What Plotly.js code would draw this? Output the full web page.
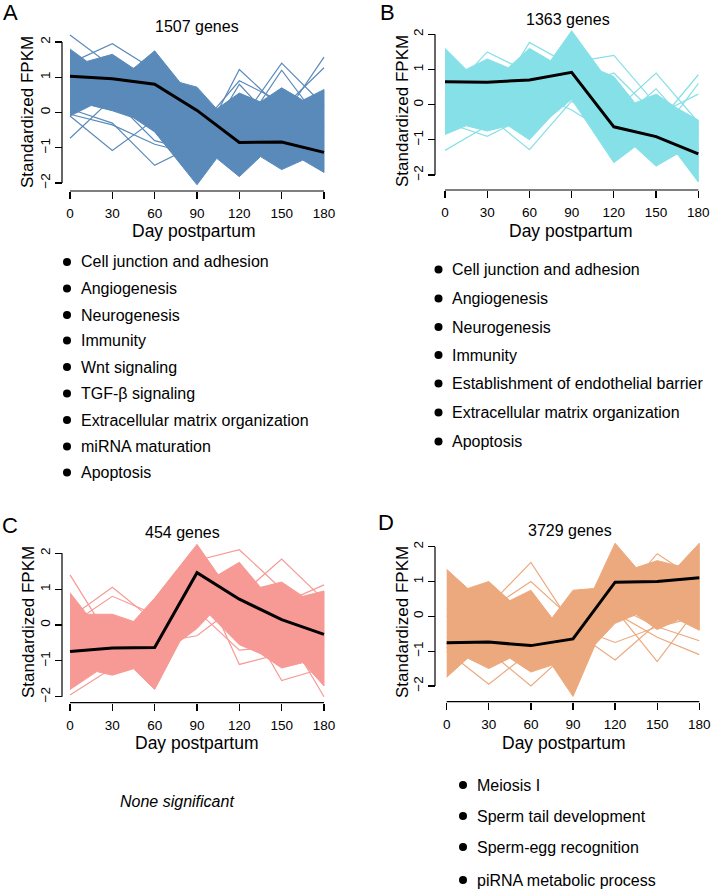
<!DOCTYPE html>
<html>
<head>
<meta charset="utf-8">
<script src="https://cdn.plot.ly/plotly-3.0.1.min.js"></script>
<style>html,body{margin:0;padding:0;background:#fff;}#chart{width:711px;height:890px;}</style>
</head>
<body>
<div id="chart"></div>
<script>
// ---------------- DATA ----------------
const days = [0, 30, 60, 90, 120, 150, 180];
const tickDays = [0, 30, 60, 90, 120, 150, 180];
const tickY = [-2, -1, 0, 1, 2];

const panelLetters = ["A", "B", "C", "D"];
const panelTitles = ["1507 genes", "1363 genes", "454 genes", "3729 genes"];

// mean (black) profiles
const meanA = [1.03, 0.96, 0.80, 0.06, -0.85, -0.84, -1.13];
const meanB = [0.65, 0.64, 0.70, 0.92, -0.63, -0.91, -1.40];
const meanC = [-0.74, -0.64, -0.63, 1.46, 0.72, 0.15, -0.26];
const meanD = [-0.76, -0.74, -0.84, -0.65, 0.98, 1.00, 1.11];

// outline of the dense bundle of gene profiles (upper and lower edge)
const bandA_upX = [0, 12, 30, 45, 60, 78, 90, 104, 120, 135, 150, 165, 180];
const bandA_upY = [1.8, 1.45, 1.65, 1.25, 1.75, 0.85, 0.72, 0.1, 0.55, 0.3, 0.7, 0.35, 0.65];
const bandA_loX = [0, 15, 30, 45, 60, 75, 90, 104, 120, 135, 150, 165, 180];
const bandA_loY = [-0.1, 0.2, 0.05, -0.15, -0.55, -1.3, -2.05, -1.3, -1.82, -1.25, -1.62, -1.35, -1.7];

const bandB_upX = [0, 15, 30, 45, 60, 75, 90, 111, 120, 135, 150, 165, 180];
const bandB_upY = [1.6, 1.0, 1.3, 1.05, 1.6, 1.25, 2.1, 0.95, 0.8, 0.05, 0.3, -0.1, -0.44];
const bandB_loX = [0, 15, 30, 45, 60, 75, 90, 120, 135, 150, 165, 180];
const bandB_loY = [-0.85, -0.6, -0.75, -0.6, -1.0, -0.35, 0.15, -1.65, -1.2, -1.75, -1.4, -2.2];

const bandC_upX = [0, 12, 30, 45, 60, 90, 105, 120, 135, 150, 165, 180];
const bandC_upY = [0.9, 0.3, 0.3, 0.1, 0.75, 2.25, 1.4, 1.75, 1.05, 1.2, 0.8, 0.95];
const bandC_loX = [0, 19, 30, 45, 60, 78, 90, 99, 120, 135, 150, 165, 180];
const bandC_loY = [-1.8, -1.3, -1.4, -1.22, -1.8, -0.45, -0.1, 0.28, -0.55, -0.8, -1.2, -1.05, -1.7];

const bandD_upX = [0, 15, 30, 45, 60, 75, 90, 105, 120, 135, 150, 165, 180];
const bandD_upY = [1.35, 0.8, 1.0, 0.45, 0.75, -0.05, 0.75, 0.8, 2.1, 1.4, 1.6, 1.45, 2.1];
const bandD_loX = [0, 15, 30, 45, 60, 75, 90, 106, 120, 135, 150, 165, 180];
const bandD_loY = [-1.75, -1.2, -1.5, -1.2, -1.6, -1.4, -2.3, -0.8, -0.2, 0.05, -0.38, -0.1, -0.4];

// individual outlying gene profiles visible outside the dense bundle
const outA = [
  [2.2, 1.3, 1.2, 0.5, -0.6, -0.9, -1.0],
  [1.4, 1.95, 1.2, 0.4, -0.5, -0.8, -1.2],
  [-0.73, 0.4, 0.3, -0.2, -0.4, -0.5, -0.9],
  [-0.1, -1.08, -0.2, -0.5, -0.7, -0.9, -1.2],
  [0.1, -0.3, -1.5, -0.9, -1.0, -1.2, -1.3],
  [0.5, 0.4, -0.8, -1.1, 1.22, 0.1, -0.3],
  [0.9, 0.6, 0.2, -0.9, -0.3, 1.4, 0.2],
  [0.8, 0.7, 0.5, -0.6, -0.5, -0.2, 1.57],
  [1.0, 0.8, 0.3, -0.5, 0.9, 0.3, -0.6],
  [0.6, 0.5, 0.4, -0.3, -0.6, 1.2, -0.4],
  [0.7, 0.3, 0.1, -0.4, -0.8, 0.1, 1.27],
  [-0.05, -0.35, -0.9, -1.2, 0.8, -0.5, -0.7]
];
const outB = [
  [-1.3, -0.6, -0.5, 0.3, -0.6, -1.0, -1.5],
  [0.2, 1.5, 0.9, 1.0, -0.3, -1.2, -1.6],
  [-0.5, -0.9, -0.3, 0.5, -0.8, -1.1, -1.4],
  [0.3, -0.2, 1.77, 1.1, -0.4, -0.9, -1.3],
  [0.0, -0.3, -1.28, 0.1, -0.7, -1.2, -1.5],
  [0.5, 0.6, 0.4, -0.15, -0.9, -1.0, -1.6],
  [0.8, 0.7, 0.6, 1.2, 1.4, 0.0, -0.8],
  [0.6, 0.6, 0.5, 0.9, -0.2, 0.9, -0.5],
  [0.4, 0.5, 0.6, 1.0, -0.6, 0.45, -0.9],
  [0.5, 0.4, 0.4, 0.8, -0.5, -0.6, 0.85],
  [0.3, 0.3, 0.2, 0.6, -0.8, -1.0, 0.6],
  [0.7, 0.5, 0.3, 0.5, 0.9, -0.3, -1.2],
  [0.2, 0.1, 0.0, 0.4, -1.2, -0.3, 0.3]
];
const outC = [
  [1.4, -0.5, -0.6, 1.0, 0.8, 0.3, -0.5],
  [0.2, 1.05, 0.1, 1.5, 0.8, 0.0, -0.6],
  [0.0, 0.8, 0.3, 1.9, 0.9, 0.2, -0.4],
  [-1.95, -1.2, -0.9, 1.2, 0.5, 0.0, -0.5],
  [-0.6, -0.5, -0.5, -0.3, 0.6, 0.4, 0.2],
  [-0.8, -0.7, -0.6, 1.8, 2.1, 1.0, 0.5],
  [-0.5, -0.6, -0.4, 1.2, 0.8, 1.84, 0.7],
  [-0.7, -0.8, -0.7, 1.5, -1.1, -0.8, -1.0],
  [-0.9, -1.0, -0.9, 1.0, 0.5, -1.55, -1.2],
  [-1.0, -0.9, -0.8, 0.9, 0.3, 0.0, -2.0],
  [-0.6, -0.5, -0.6, 1.4, 1.0, 0.6, 1.12],
  [-0.2, -0.4, -0.3, 0.4, -0.7, -0.6, -0.9]
];
const outD = [
  [0.2, 0.3, 1.55, -0.3, 0.6, 0.8, 0.7],
  [0.0, 0.2, 1.0, -0.1, 0.5, 0.6, 0.9],
  [-1.0, -1.95, -1.0, -0.8, 0.5, 0.5, 0.6],
  [-0.9, -1.0, -2.0, -0.9, 0.8, 0.7, 0.8],
  [-0.6, -0.5, -0.6, -0.4, -1.25, -0.2, 0.2],
  [-0.8, -0.7, -0.5, -0.3, -0.75, -0.3, 0.0],
  [-0.9, -0.8, -0.9, -0.5, 0.2, -1.3, 0.3],
  [-0.7, -0.8, -0.6, -0.4, 0.1, -0.6, -1.1],
  [-0.8, -0.9, -0.9, -0.6, 0.4, 1.8, 1.0],
  [-0.8, -0.7, -0.8, -0.7, 0.3, -0.3, -0.7]
];

// enriched terms listed under the panels
const termsA = ["Cell junction and adhesion", "Angiogenesis", "Neurogenesis", "Immunity", "Wnt signaling",
  "TGF-β signaling", "Extracellular matrix organization", "miRNA maturation", "Apoptosis"];
const termsB = ["Cell junction and adhesion", "Angiogenesis", "Neurogenesis", "Immunity",
  "Establishment of endothelial barrier", "Extracellular matrix organization", "Apoptosis"];
const termsC = ["None significant"];
const termsD = ["Meiosis I", "Sperm tail development", "Sperm-egg recognition", "piRNA metabolic process"];

const colors = ["#5a8aba", "#86e0e8", "#f79a95", "#eda97e"];

// ---------------- LAYOUT (pixel geometry) ----------------
const W = 711, H = 890;
const FONT = "Liberation Sans, Arial, Helvetica, sans-serif";
const px = v => v / W;
const py = v => 1 - v / H;

const geom = [
  {x0: 70, x180: 324, y2: 42, ym2: 183, xLine: 191, yLine: 62,
   letter: [10, 12], title: [197, 26], ytitle: [28, 112], xtitle: [194, 231],
   bulletX: 67, textX: 79, itemsY: [262, 288.5, 315, 340.5, 367, 393.5, 420, 446.5, 472.5]},
  {x0: 445, x180: 698.3, y2: 34.3, ym2: 175, xLine: 190, yLine: 435,
   letter: [388, 12], title: [568, 19], ytitle: [402, 111], xtitle: [571, 231],
   bulletX: 438.5, textX: 450, itemsY: [269.5, 298.5, 327, 355, 383.5, 412.5, 441.5]},
  {x0: 70, x180: 324, y2: 553.3, ym2: 696.7, xLine: 702.7, yLine: 62,
   letter: [10, 525], title: [182, 532], ytitle: [28, 622], xtitle: [197, 743],
   italicText: [177, 801]},
  {x0: 446.7, x180: 699.3, y2: 546.7, ym2: 686, xLine: 701.7, yLine: 435,
   letter: [386, 522], title: [570, 530], ytitle: [402, 622], xtitle: [564, 743],
   bulletX: 463, textX: 475, itemsY: [785, 816, 847, 880]}
];

const means = [meanA, meanB, meanC, meanD];
const bands = [
  [bandA_upX, bandA_upY, bandA_loX, bandA_loY],
  [bandB_upX, bandB_upY, bandB_loX, bandB_loY],
  [bandC_upX, bandC_upY, bandC_loX, bandC_loY],
  [bandD_upX, bandD_upY, bandD_loX, bandD_loY]
];
const outs = [outA, outB, outC, outD];
const terms = [termsA, termsB, termsC, termsD];

const XR = [-6, 186], YR = [-2.5, 2.5];
const traces = [];
const layout = {
  width: W, height: H, margin: {l: 0, r: 0, t: 0, b: 0},
  paper_bgcolor: "#ffffff", plot_bgcolor: "rgba(0,0,0,0)",
  showlegend: false, font: {family: FONT, color: "#000"},
  annotations: [], shapes: []
};

geom.forEach((g, i) => {
  const n = i === 0 ? "" : String(i + 1);
  const xa = "x" + n, ya = "y" + n;
  const xs = (g.x180 - g.x0) / 180;
  const ys = (g.ym2 - g.y2) / 4;
  const pxTop = g.y2 - (YR[1] - 2) * ys;
  const pxBot = g.ym2 + (-2 - YR[0]) * ys;
  layout["xaxis" + n] = {
    domain: [px(g.x0 + XR[0] * xs), px(g.x0 + XR[1] * xs)], range: XR,
    anchor: "free", position: py(g.xLine),
    showgrid: false, zeroline: false, showline: false,
    tickmode: "array", tickvals: tickDays, ticks: "outside", ticklen: 7, tickwidth: 1.2, tickcolor: "#000",
    tickfont: {size: 13.5, family: FONT, color: "#000"}, ticklabelstandoff: 3, fixedrange: true
  };
  layout["yaxis" + n] = {
    domain: [py(pxBot), py(pxTop)], range: YR,
    anchor: "free", position: px(g.yLine),
    showgrid: false, zeroline: false, showline: false,
    tickmode: "array", tickvals: tickY, ticks: "outside", ticklen: 7, tickwidth: 1.2, tickcolor: "#000",
    tickangle: -90, tickfont: {size: 13.5, family: FONT, color: "#000"}, fixedrange: true
  };
  // R-style axis lines spanning only the tick range
  layout.shapes.push({type: "line", xref: xa, yref: "paper", x0: tickDays[0], x1: tickDays[tickDays.length - 1],
    y0: py(g.xLine), y1: py(g.xLine), line: {color: "#000", width: 1.2}});
  layout.shapes.push({type: "line", xref: "paper", yref: ya, x0: px(g.yLine), x1: px(g.yLine),
    y0: tickY[0], y1: tickY[tickY.length - 1], line: {color: "#000", width: 1.2}});

  const col = colors[i];
  const b = bands[i];
  traces.push({
    type: "scatter", mode: "lines", xaxis: xa, yaxis: ya,
    x: b[0].concat(b[2].slice().reverse()), y: b[1].concat(b[3].slice().reverse()),
    fill: "toself", fillcolor: col, line: {color: col, width: 1}, hoverinfo: "skip"
  });
  outs[i].forEach(v => traces.push({
    type: "scatter", mode: "lines", xaxis: xa, yaxis: ya, x: days, y: v,
    line: {color: col, width: 1.2}, hoverinfo: "skip"
  }));
  traces.push({
    type: "scatter", mode: "lines", xaxis: xa, yaxis: ya, x: days, y: means[i],
    line: {color: "#000", width: 3}, hoverinfo: "skip"
  });

  const ann = (t, xy, opts) => layout.annotations.push(Object.assign({
    text: t, xref: "paper", yref: "paper", x: px(xy[0]), y: py(xy[1]),
    xanchor: "center", yanchor: "middle", showarrow: false,
    font: {family: FONT, size: 16, color: "#000"}
  }, opts || {}));

  ann(panelLetters[i], g.letter, {font: {family: FONT, size: 22, color: "#000"}});
  ann(panelTitles[i], g.title);
  ann("Standardized FPKM", g.ytitle, {textangle: -90, font: {family: FONT, size: 17, color: "#000"}});
  ann("Day postpartum", g.xtitle, {font: {family: FONT, size: 17.5, color: "#000"}});

  if (g.italicText) {
    ann("<i>" + terms[i][0] + "</i>", g.italicText);
  } else {
    terms[i].forEach((t, k) => {
      const yy = g.itemsY[k];
      layout.shapes.push({type: "circle", xref: "paper", yref: "paper",
        x0: px(g.bulletX - 4), x1: px(g.bulletX + 4), y0: py(yy - 4), y1: py(yy + 4),
        fillcolor: "#000", line: {width: 0}});
      ann(t, [g.textX, yy], {xanchor: "left"});
    });
  }
});

Plotly.newPlot("chart", traces, layout, {staticPlot: true, displayModeBar: false});
</script>
</body>
</html>
